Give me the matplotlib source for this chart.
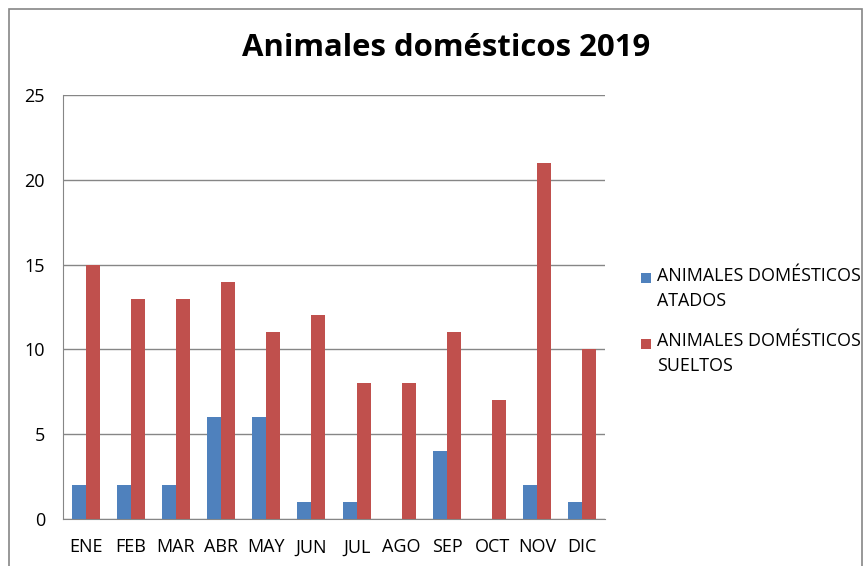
import numpy as np
import matplotlib.pyplot as plt
from matplotlib.patches import Rectangle
from matplotlib.legend_handler import HandlerPatch
from matplotlib.container import BarContainer

meses = ['ENE', 'FEB', 'MAR', 'ABR', 'MAY', 'JUN', 'JUL', 'AGO', 'SEP', 'OCT', 'NOV', 'DIC']
atados = [2, 2, 2, 6, 6, 1, 1, 0, 4, 0, 2, 1]
sueltos = [15, 13, 13, 14, 11, 12, 8, 8, 11, 7, 21, 10]

plt.rcParams['font.family'] = ['Open Sans', 'DejaVu Sans']

fig = plt.figure(figsize=(8.68, 5.66), dpi=100)
ax = fig.add_axes([63/868, 1 - 519/566, (605 - 63)/868, (519 - 95)/566])

x = np.arange(len(meses))
w = 0.31
ax.bar(x - w/2, atados, w, color='#4f81bd', label='ANIMALES DOMÉSTICOS\nATADOS', zorder=3)
ax.bar(x + w/2, sueltos, w, color='#c0504d', label='ANIMALES DOMÉSTICOS\nSUELTOS', zorder=3)

ax.set_xlim(-0.5, len(meses) - 0.5)
ax.set_ylim(0, 25)
ax.set_yticks([0, 5, 10, 15, 20, 25])
ax.set_xticks(x)
ax.set_xticklabels(meses)
ax.tick_params(axis='both', length=0, labelsize=13)
ax.tick_params(axis='x', pad=14)
ax.tick_params(axis='y', pad=13)
ax.grid(axis='y', color='#868686', linewidth=1, zorder=0)
for s in ['top', 'right']:
    ax.spines[s].set_visible(False)
for s in ['left', 'bottom']:
    ax.spines[s].set_color('#868686')

fig.text(446/868, 1 - 48/566, 'Animales domésticos 2019', ha='center', va='center',
         fontsize=22.4, fontweight='bold')


# square marker next to the first line of each label
def top_square(legend, orig_handle, xdescent, ydescent, width, height, fontsize):
    s = 0.56 * fontsize
    return Rectangle((-xdescent, -ydescent + height - s * 0.75), s, s)


def copy_color(handle, orig):
    handle.update_from(orig.patches[0])


leg = ax.legend(loc='center left', bbox_to_anchor=(1.037, 0.467), frameon=False,
                fontsize=12.9, handlelength=0.56, handleheight=2.0, handletextpad=0.3,
                labelspacing=1.25,
                handler_map={BarContainer: HandlerPatch(patch_func=top_square,
                                                        update_func=copy_color)})
for t in leg.get_texts():
    t.set_linespacing(1.5)

fig.patches.append(Rectangle((9/868, -0.1), (862 - 9)/868, 1.1 - 9/566,
                             transform=fig.transFigure, fill=False,
                             edgecolor='#868686', linewidth=1.2))

fig.savefig('out.png', dpi=100)
